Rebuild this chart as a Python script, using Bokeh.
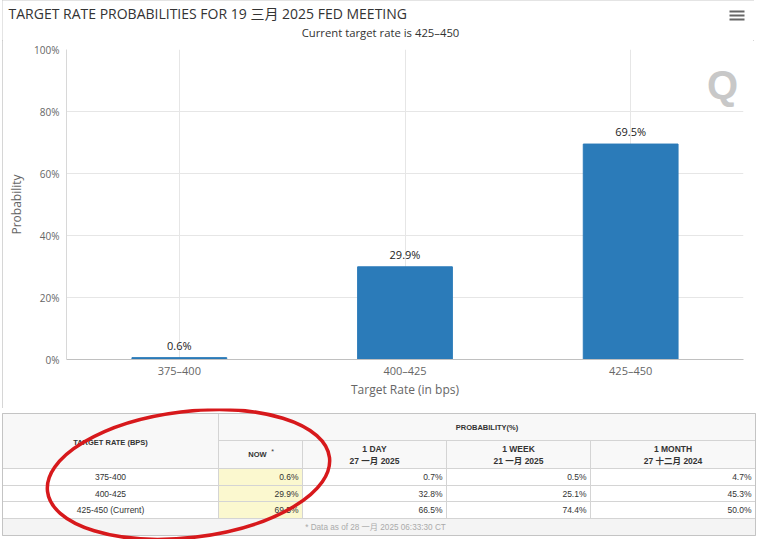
from bokeh.plotting import figure
from bokeh.models import Range1d, FactorRange, Label, FixedTicker, PrintfTickFormatter
from bokeh.layouts import column
from bokeh.embed import file_html
from bokeh.resources import INLINE
from bokeh.core.properties import value

# ---------------- data ----------------
categories = ["375–400", "400–425", "425–450"]
probabilities = [0.6, 29.9, 69.5]
y_ticks = [0, 20, 40, 60, 80, 100]

title_text = "TARGET RATE PROBABILITIES FOR 19 三月 2025 FED MEETING"
subtitle_text = "Current target rate is 425–450"

table_rates = ["375-400", "400-425", "425-450 (Current)"]
now_vals = [0.6, 29.9, 69.5]
day_vals = [0.7, 32.8, 66.5]
week_vals = [0.5, 25.1, 74.4]
month_vals = [4.7, 45.3, 50.0]
col_heads = ["1 DAY", "1 WEEK", "1 MONTH"]
col_dates = ["27 一月 2025", "21 一月 2025", "27 十二月 2024"]
footer_text = "* Data as of 28 一月 2025 06:33:30 CT"

# ---------------- styles ----------------
FONT = "'Open Sans', 'Noto Sans CJK SC', sans-serif"
TFONT = "'Liberation Sans', 'Noto Sans CJK SC', sans-serif"
BAR = "#2b7bb9"
GRID = "#e6e6e6"


def bare(fig):
    fig.xgrid.visible = False
    fig.ygrid.visible = False
    fig.outline_line_color = None
    fig.background_fill_color = "white"
    fig.border_fill_color = "white"
    fig.frame_align = False


# ---------------- header (title, subtitle, menu icon) ----------------
HDR_H = 40
hdr = figure(x_range=Range1d(0, 752), y_range=Range1d(HDR_H, 0), width=752, height=HDR_H,
             min_border=0, output_backend="svg", toolbar_location=None,
             x_axis_location=None, y_axis_location=None)
bare(hdr)
hdr.text(x=[6], y=[13], text=[title_text], text_font=value(FONT), text_font_size="14px",
         text_color="#333333", text_baseline="middle", text_align="left")
hdr.text(x=[378], y=[32], text=[subtitle_text], text_font=value(FONT), text_font_size="11.3px",
         text_color="#333333", text_baseline="middle", text_align="center")
hdr.segment(x0=[727] * 3, x1=[742] * 3, y0=[11, 15, 19], y1=[11, 15, 19],
            line_color="#666666", line_width=2)

# ---------------- chart ----------------
p = figure(x_range=FactorRange(*categories), y_range=Range1d(0, 100),
           width=752, height=408 - HDR_H,
           min_border_left=64, min_border_right=11, min_border_top=9, min_border_bottom=49,
           output_backend="svg", toolbar_location=None)
p.outline_line_color = None
p.background_fill_color = "white"
p.border_fill_color = "white"
p.frame_align = False

p.vbar(x=categories, top=probabilities, width=0.42, color=BAR)
p.text(x=categories, y=probabilities, text=[f"{v}%" for v in probabilities],
       text_align="center", text_baseline="bottom", y_offset=-5,
       text_font=value(FONT), text_font_size="11px", text_color="#222222")

p.yaxis.ticker = FixedTicker(ticks=y_ticks)
p.yaxis.formatter = PrintfTickFormatter(format="%d%%")
p.yaxis.major_tick_line_color = None
p.yaxis.minor_tick_line_color = None
p.yaxis.major_tick_out = 0
p.yaxis.major_tick_in = 0
p.yaxis.minor_tick_out = 0
p.yaxis.axis_line_color = "#d8d8d8"
p.yaxis.major_label_text_font = FONT
p.yaxis.major_label_text_font_size = "10px"
p.yaxis.major_label_text_color = "#666666"
p.yaxis.major_label_standoff = 7
p.yaxis.axis_label = "Probability"
p.yaxis.axis_label_text_font = FONT
p.yaxis.axis_label_text_font_size = "12px"
p.yaxis.axis_label_text_font_style = "normal"
p.yaxis.axis_label_text_color = "#666666"
p.yaxis.axis_label_standoff = 6

p.xaxis.major_tick_line_color = None
p.xaxis.major_tick_out = 0
p.xaxis.major_tick_in = 0
p.xaxis.axis_line_color = "#c0c0c0"
p.xaxis.major_label_text_font = FONT
p.xaxis.major_label_text_font_size = "11px"
p.xaxis.major_label_text_color = "#666666"
p.xaxis.major_label_standoff = 3
p.xaxis.axis_label = "Target Rate (in bps)"
p.xaxis.axis_label_text_font = FONT
p.xaxis.axis_label_text_font_size = "12px"
p.xaxis.axis_label_text_font_style = "normal"
p.xaxis.axis_label_text_color = "#666666"
p.xaxis.axis_label_standoff = 0

p.xgrid.grid_line_color = GRID
p.ygrid.grid_line_color = GRID

# watermark logo (inside the frame; screen units relative to frame bottom-left)
p.add_layout(Label(x=656, y=275, x_units="screen", y_units="screen", text="Q",
                   text_font="Liberation Sans", text_font_size="40px", text_font_style="bold",
                   text_color="#c8c8c8", text_baseline="middle", text_align="center"))

chart_box = column(hdr, p, spacing=0, margin=(0, 0, 0, 2),
                   styles={"outline": "1px solid #c8c8c8", "outline-offset": "-1px"})

# ---------------- table ----------------
T_TOP = 408
t = figure(x_range=Range1d(0, 760), y_range=Range1d(539, T_TOP), width=760, height=539 - T_TOP,
           min_border=0, output_backend="svg", toolbar_location=None,
           x_axis_location=None, y_axis_location=None)
bare(t)

# layout constants for the table (pixels)
L, R, TOP, BOT = 2, 755, 413, 535
C = [2, 218, 302, 446, 590, 755]          # column edges
H1, H2 = 440, 468                          # header row bottoms
RB = [468, 485, 501, 518]                  # data row boundaries
LINE = "#d4d4d4"

t.quad(left=[L], right=[R], top=[TOP], bottom=[BOT], fill_color="white", line_color="#c4c4c4")
t.quad(left=[L], right=[R], top=[TOP], bottom=[H2], fill_color="#f8f8f8", line_color=None)
t.quad(left=[L], right=[R], top=[RB[-1]], bottom=[BOT], fill_color="#f4f4f4", line_color=None)
t.quad(left=[C[1]] * 3, right=[C[2]] * 3, top=RB[:-1], bottom=RB[1:], fill_color="#fbf8cf", line_color=None)

t.segment(x0=[C[1]] + [L] * 4, x1=[R] * 5, y0=[H1] + RB, y1=[H1] + RB, line_color=LINE, line_width=1)
t.segment(x0=[C[1]], x1=[C[1]], y0=[TOP], y1=[RB[-1]], line_color=LINE)
t.segment(x0=C[2:5], x1=C[2:5], y0=[H1] * 3, y1=[RB[-1]] * 3, line_color=LINE)
t.quad(left=[L], right=[R], top=[TOP], bottom=[BOT], fill_color=None, line_color="#c4c4c4")

hd = dict(text_font=value(TFONT), text_font_style="bold", text_font_size="7.5px",
          text_color="#333333", text_baseline="middle", text_align="center")
hd2 = dict(hd, text_font_size="8.5px")
t.text(x=[(C[0] + C[1]) / 2], y=[(TOP + H2) / 2 + 1], text=["TARGET RATE (BPS)"], **hd)
t.text(x=[(C[1] + C[5]) / 2], y=[(TOP + H1) / 2], text=["PROBABILITY(%)"], **hd)
t.text(x=[(C[1] + C[2]) / 2 - 3], y=[(H1 + H2) / 2], text=["NOW"], **hd)
t.text(x=[(C[1] + C[2]) / 2 + 12], y=[(H1 + H2) / 2 - 3], text=["*"],
       text_font=value(TFONT), text_font_size="7px", text_color="#333333",
       text_baseline="middle", text_align="center")
cx = [(C[i] + C[i + 1]) / 2 for i in range(2, 5)]
t.text(x=cx, y=[(H1 + H2) / 2 - 6] * 3, text=col_heads, **hd2)
t.text(x=cx, y=[(H1 + H2) / 2 + 6] * 3, text=col_dates, **hd2)

cy = [(RB[i] + RB[i + 1]) / 2 for i in range(3)]
body = dict(text_font=value(TFONT), text_font_size="8.5px", text_color="#333333",
            text_baseline="middle")
t.text(x=[(C[0] + C[1]) / 2] * 3, y=cy, text=table_rates, text_align="center", **body)
for i, vals in enumerate([now_vals, day_vals, week_vals, month_vals]):
    t.text(x=[C[i + 2] - 4] * 3, y=cy, text=[f"{v:.1f}%" for v in vals], text_align="right", **body)

t.text(x=[375], y=[(RB[-1] + BOT) / 2], text=[footer_text], text_font=value(TFONT),
       text_font_size="8.2px", text_color="#aaaaaa", text_baseline="middle", text_align="center")

# red annotation ellipse
t.ellipse(x=[188], y=[474], width=[284], height=[126], angle=[0.12],
          fill_color=None, line_color="#d7191c", line_width=3.5)

layout = column(chart_box, t, spacing=0)
open("out.html", "w").write(file_html(layout, INLINE))
